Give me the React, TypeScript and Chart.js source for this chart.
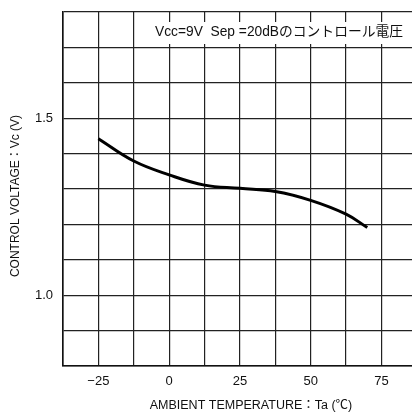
import React, { useEffect, useRef } from "react";
import { Chart, registerables } from "chart.js";

Chart.register(...registerables);

// Data
const temperatures = [-25, -12.5, 0, 12.5, 25, 37.5, 50, 62.5, 70];
const controlVoltages = [1.442, 1.379, 1.34, 1.311, 1.302, 1.293, 1.268, 1.229, 1.191];

// Axis grid / tick labels
const xGridValues = [-37.5, -25, -12.5, 0, 12.5, 25, 37.5, 50, 62.5, 75];
const xLabelValues = [-25, 0, 25, 50, 75];
const yGridValues = [0.8, 0.9, 1.0, 1.1, 1.2, 1.3, 1.4, 1.5, 1.6, 1.7, 1.8];
const yLabelValues = [1.0, 1.5];

const xTitle = "AMBIENT TEMPERATURE：Ta (℃)";
const yTitle = "CONTROL VOLTAGE：Vc (V)";
const noteText = "Vcc=9V  Sep =20dBのコントロール電圧";

const FONT = "'Liberation Sans', 'Noto Sans CJK JP', sans-serif";

export default function App() {
  const ref = useRef<HTMLCanvasElement | null>(null);

  useEffect(() => {
    if (!ref.current) return;
    const overlay = {
      id: "overlay",
      afterDraw(chart: any) {
        const ctx = chart.ctx;
        const xs = chart.scales.x;
        const area = chart.chartArea;
        ctx.save();
        // white note box in top row
        const boxLeft = xs.getPixelForValue(-12.5) + 4;
        ctx.fillStyle = "#ffffff";
        ctx.fillRect(boxLeft, 22, area.right - boxLeft, 22);
        ctx.fillStyle = "#111";
        ctx.font = "14px " + FONT;
        ctx.textBaseline = "middle";
        ctx.textAlign = "left";
        ctx.fillText(noteText, 155, 32, 248);
        // x title
        ctx.font = "12.5px " + FONT;
        ctx.textAlign = "center";
        ctx.fillText(xTitle, 251, 406, 206);
        // y title
        ctx.translate(16, 196);
        ctx.rotate(-Math.PI / 2);
        ctx.font = "12px " + FONT;
        ctx.fillText(yTitle, 0, 0, 164);
        ctx.restore();
      },
    };

    const chart = new Chart(ref.current, {
      type: "line",
      data: {
        datasets: [
          {
            data: temperatures.map((t, i) => ({ x: t, y: controlVoltages[i] })),
            borderColor: "#000",
            borderWidth: 3,
            pointRadius: 0,
            tension: 0.4,
            fill: false,
          },
        ],
      },
      options: {
        animation: false,
        responsive: false,
        maintainAspectRatio: false,
        layout: { padding: { top: 12, left: 0, right: 0, bottom: 0 } },
        plugins: { legend: { display: false }, tooltip: { enabled: false } },
        scales: {
          x: {
            type: "linear",
            min: -37.5,
            max: 85.8,
            afterBuildTicks: (s: any) => {
              s.ticks = xGridValues.map((v) => ({ value: v }));
            },
            afterFit: (s: any) => {
              s.height = 46;
              s.paddingLeft = 0;
              s.paddingRight = 0;
            },
            grid: { color: "#222", lineWidth: 1.2, drawTicks: false },
            border: { display: true, color: "#111", width: 1.6 },
            ticks: {
              padding: 8,
              color: "#111",
              font: { family: FONT, size: 13 },
              autoSkip: false,
              maxRotation: 0,
              callback: (v: any) =>
                xLabelValues.includes(Number(v))
                  ? (Number(v) < 0 ? "\u2212" + Math.abs(Number(v)) : String(v))
                  : "",
            },
          },
          y: {
            type: "linear",
            min: 0.8,
            max: 1.8,
            afterBuildTicks: (s: any) => {
              s.ticks = yGridValues.map((v) => ({ value: v }));
            },
            afterFit: (s: any) => {
              s.width = 63;
              s.paddingTop = 0;
              s.paddingBottom = 0;
            },
            grid: { color: "#222", lineWidth: 1.2, drawTicks: false },
            border: { display: true, color: "#111", width: 1.6 },
            ticks: {
              padding: 10,
              color: "#111",
              font: { family: FONT, size: 13 },
              autoSkip: false,
              callback: (v: any) => {
                const n = Math.round(Number(v) * 10) / 10;
                return yLabelValues.includes(n) ? n.toFixed(1) : "";
              },
            },
          },
        },
      },
      plugins: [overlay],
    } as any);
    return () => chart.destroy();
  }, []);

  return (
    <div style={{ position: "absolute", left: 0, top: 0, width: 412, height: 412, background: "#fff" }}>
      <canvas ref={ref} width={412} height={412} style={{ width: 412, height: 412 }} />
    </div>
  );
}
